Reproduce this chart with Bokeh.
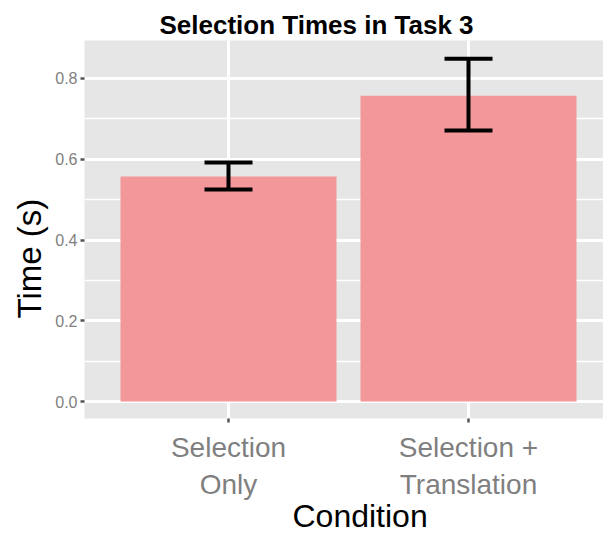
from bokeh.plotting import figure
from bokeh.models import Range1d, FixedTicker, Whisker, ColumnDataSource, Title
from bokeh.embed import file_html
from bokeh.resources import INLINE

conditions = ["Selection\nOnly", "Selection +\nTranslation"]
positions = [1, 2]
mean_time = [0.557, 0.757]
err_upper = [0.592, 0.849]
err_lower = [0.525, 0.671]
y_ticks = [0.0, 0.2, 0.4, 0.6, 0.8]
y_minor = [0.1, 0.3, 0.5, 0.7]

src = ColumnDataSource(dict(x=positions, top=mean_time, upper=err_upper, lower=err_lower))

p = figure(width=603, height=533, output_backend="svg", toolbar_location=None,
           x_range=Range1d(0.4, 2.5625), y_range=Range1d(-0.042, 0.894),
           min_border_left=84, min_border_right=0, min_border_top=40, min_border_bottom=115,
           title="Selection Times in Task 3")

p.background_fill_color = "#E5E6E5"
p.border_fill_color = "white"
p.outline_line_color = None

p.title.text_font = "Liberation Sans"
p.title.text_font_style = "bold"
p.title.text_font_size = "26px"
p.title.align = "left"
p.title.offset = 75
p.title.text_color = "black"
p.title.standoff = 2

p.vbar(x="x", top="top", bottom=0, width=0.9, source=src,
       fill_color="#F4979A", line_color=None)

w = Whisker(base="x", upper="upper", lower="lower", source=src,
            line_color="black", line_width=4, level="overlay")
w.upper_head.size = 48
w.lower_head.size = 48
w.upper_head.line_width = 4
w.lower_head.line_width = 4
w.upper_head.line_color = "black"
w.lower_head.line_color = "black"
p.add_layout(w)

p.xaxis.ticker = FixedTicker(ticks=positions)
p.xaxis.major_label_overrides = {pos: lab for pos, lab in zip(positions, conditions)}
p.yaxis.ticker = FixedTicker(ticks=y_ticks, minor_ticks=y_minor)
p.yaxis.major_label_overrides = {t: f"{t:.1f}" for t in y_ticks}

for ax in (p.xaxis, p.yaxis):
    ax.axis_line_color = None
    ax.major_tick_line_color = "#555555"
    ax.major_tick_line_width = 2.5
    ax.major_tick_out = 4
    ax.major_tick_in = 0
    ax.minor_tick_line_color = None
    ax.major_label_text_color = "#7F7F7F"
    ax.major_label_text_font = "Liberation Sans"

p.yaxis.major_label_text_font_size = "16px"
p.yaxis.major_label_standoff = 3
p.xaxis.major_label_text_font_size = "28px"
p.xaxis.major_label_text_line_height = 1.2
p.xaxis.major_label_standoff = 9

xlab = Title(text="Condition", text_font="Liberation Sans", text_font_style="normal",
             text_font_size="32px", text_color="black", align="left", offset=208,
             standoff=-14)
p.add_layout(xlab, "below")
ylab = Title(text="Time (s)", text_font="Liberation Sans", text_font_style="normal",
             text_font_size="33px", text_color="black", align="left", offset=100, standoff=9)
p.add_layout(ylab, "left")

p.xgrid.ticker = FixedTicker(ticks=positions)
p.xgrid.grid_line_color = "white"
p.xgrid.grid_line_width = 3
p.ygrid.grid_line_color = "white"
p.ygrid.grid_line_width = 3
p.ygrid.minor_grid_line_color = "white"
p.ygrid.minor_grid_line_width = 1.5

open("out.html", "w").write(file_html(p, INLINE))
